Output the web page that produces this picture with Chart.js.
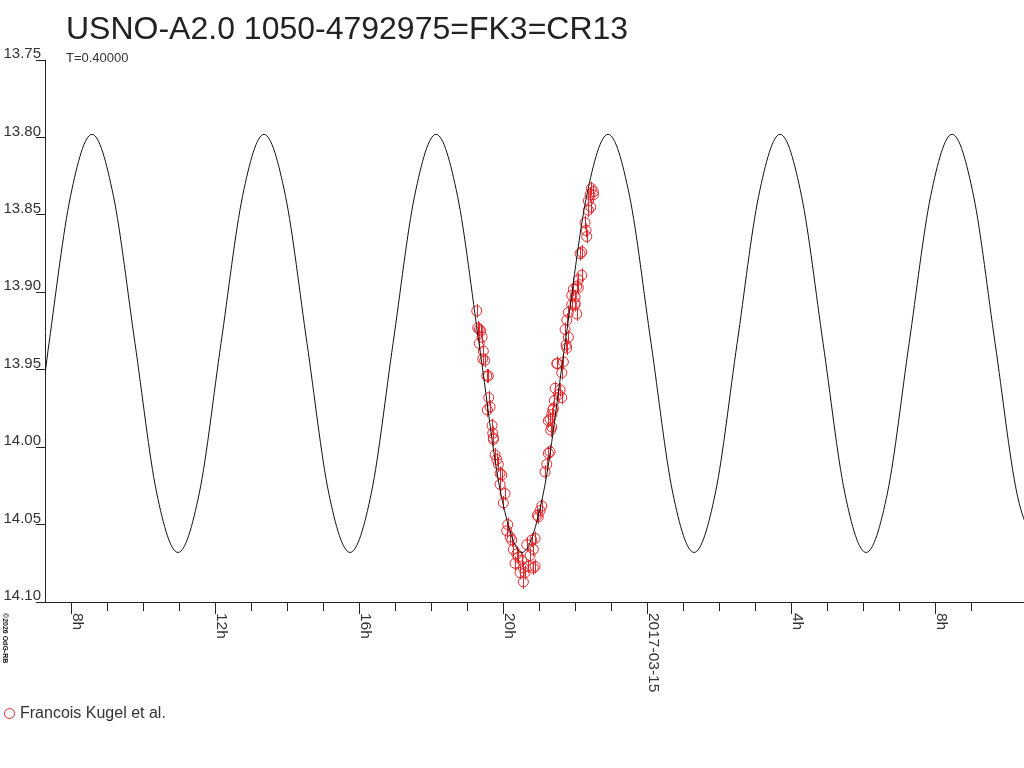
<!DOCTYPE html>
<html>
<head>
<meta charset="utf-8">
<script src="https://cdn.jsdelivr.net/npm/chart.js@4.4.1/dist/chart.umd.min.js"></script>
<style>
  html, body { margin: 0; padding: 0; background: #fff; }
  #wrap { position: relative; width: 1024px; height: 768px; font-family: "Liberation Sans", Arial, sans-serif; color: #222; }
  #chart { position: absolute; left: 0; top: 0; }
  .txt { position: absolute; white-space: nowrap; line-height: 1; }
  #title { left: 66px; top: 12px; font-size: 32px; }
  #sub { left: 66px; top: 51px; font-size: 13px; color: #333; }
  #legend { left: 4px; top: 705px; font-size: 16px; color: #333; }
  #legend span.mark { display: inline-block; width: 9px; height: 9px; border: 1px solid #e4262b; border-radius: 50%; vertical-align: -1px; margin-right: 5px; }
  #copy { left: 9px; top: 613px; font-size: 7px; font-weight: bold; transform: rotate(90deg); transform-origin: 0 0; color: #111; }
</style>
</head>
<body>
<div id="wrap">
  <canvas id="chart" width="1024" height="768"></canvas>
  <div class="txt" id="title">USNO-A2.0 1050-4792975=FK3=CR13</div>
  <div class="txt" id="sub">T=0.40000</div>
  <div class="txt" id="legend"><span class="mark"></span>Francois Kugel et al.</div>
  <div class="txt" id="copy">©2026 OdG-RB</div>
</div>
<script>
// hours counted from 2017-03-14 00:00
const xMin = 7.27;
const xMax = 34.46;
const magMin = 13.75;
const magMax = 14.10;

const tickHours = [8, 12, 16, 20, 24, 28, 32];
const tickLabels = ['8h', '12h', '16h', '20h', '2017-03-15', '4h', '8h'];

// model light curve
const curveHours = [7.27, 7.381, 7.978, 8.575, 9.172, 9.770, 10.367, 10.964, 11.561, 12.158, 12.756,
  13.353, 13.950, 14.547, 15.145, 15.742, 16.339, 16.936, 17.533, 18.131, 18.728, 19.325, 19.922,
  20.519, 21.117, 21.714, 22.311, 22.908, 23.506, 24.103, 24.700, 25.297, 25.894, 26.492, 27.089,
  27.686, 28.283, 28.881, 29.478, 30.075, 30.672, 31.269, 31.867, 32.464, 33.061, 33.658, 34.256, 34.853];
const curveMags = [13.953, 13.933, 13.838, 13.798, 13.838, 13.933, 14.029, 14.068, 14.029, 13.933, 13.838,
  13.798, 13.838, 13.933, 14.029, 14.068, 14.029, 13.933, 13.838, 13.798, 13.838, 13.933, 14.029,
  14.068, 14.029, 13.933, 13.838, 13.798, 13.838, 13.933, 14.029, 14.068, 14.029, 13.933, 13.838,
  13.798, 13.838, 13.933, 14.029, 14.068, 14.029, 13.933, 13.838, 13.798, 13.838, 13.933, 14.029, 14.068];

// observations (Francois Kugel et al.)
const obsHours = [19.261, 19.289, 19.333, 19.372, 19.408, 19.333, 19.444, 19.428, 19.483, 19.539,
  19.583, 19.594, 19.556, 19.631, 19.686, 19.706, 19.722, 19.722, 19.769, 19.817,
  19.861, 19.908, 19.956, 19.908, 20.047, 20.000, 20.122, 20.094, 20.186, 20.233,
  20.278, 20.372, 20.325, 20.417, 20.511, 20.556, 20.464, 20.603, 20.694, 20.556,
  20.650, 20.789, 20.881, 20.833, 20.742, 20.833, 20.881, 20.944, 20.972, 21.019,
  21.067, 21.158, 21.206, 21.250, 21.297, 21.317, 21.344, 21.297, 21.372, 21.389,
  21.417, 21.436, 21.483, 21.344, 21.250, 21.500, 21.528, 21.575, 21.622, 21.622,
  21.667, 21.742, 21.761, 21.714, 21.761, 21.806, 21.806, 21.900, 21.992, 22.039,
  21.900, 21.992, 21.992, 21.944, 22.083, 22.083, 22.178, 22.039, 22.178, 22.131,
  22.269, 22.297, 22.317, 22.408, 22.500, 22.361, 22.428, 22.361, 22.444, 22.500];
const obsMags = [13.912, 13.923, 13.924, 13.925, 13.929, 13.933, 13.938, 13.943, 13.944, 13.954,
  13.954, 13.968, 13.976, 13.974, 13.986, 13.991, 13.994, 13.995, 14.005, 14.008,
  14.011, 14.017, 14.018, 14.024, 14.030, 14.036, 14.050, 14.054, 14.058, 14.060,
  14.066, 14.069, 14.075, 14.071, 14.073, 14.078, 14.081, 14.081, 14.077, 14.087,
  14.063, 14.060, 14.059, 14.066, 14.070, 14.078, 14.077, 14.044, 14.045, 14.041,
  14.038, 14.016, 14.011, 14.004, 14.003, 13.989, 13.987, 13.982, 13.976, 13.975,
  13.970, 13.962, 13.946, 13.979, 13.983, 13.946, 13.966, 13.963, 13.968, 13.952,
  13.945, 13.934, 13.936, 13.924, 13.918, 13.929, 13.913, 13.908, 13.907, 13.914,
  13.902, 13.903, 13.908, 13.898, 13.892, 13.897, 13.889, 13.896, 13.874, 13.875,
  13.855, 13.860, 13.864, 13.837, 13.837, 13.841, 13.845, 13.847, 13.833, 13.835];
const obsErr = 0.0045;

const RED = '#e4262b';
const INK = '#222';

const curvePts = curveHours.map((h, i) => ({ x: h, y: curveMags[i] }));
const obsPts = obsHours.map((h, i) => ({ x: h, y: obsMags[i] }));

// error bars under the circles
const errorBars = {
  id: 'errorBars',
  beforeDatasetsDraw(chart) {
    const ctx = chart.ctx, xs = chart.scales.x, ys = chart.scales.y;
    ctx.save();
    ctx.strokeStyle = RED;
    ctx.lineWidth = 1;
    obsPts.forEach(p => {
      const px = Math.round(xs.getPixelForValue(p.x)) + 0.5;
      ctx.beginPath();
      ctx.moveTo(px, ys.getPixelForValue(p.y - obsErr));
      ctx.lineTo(px, ys.getPixelForValue(p.y + obsErr));
      ctx.stroke();
    });
    ctx.restore();
  }
};

// long ticks and rotated labels on the time axis
const timeLabels = {
  id: 'timeLabels',
  afterDraw(chart) {
    const ctx = chart.ctx, xs = chart.scales.x;
    const y0 = chart.chartArea.bottom;
    ctx.save();
    ctx.strokeStyle = INK;
    ctx.fillStyle = '#333';
    ctx.lineWidth = 1;
    ctx.font = '15.5px "Liberation Sans", Arial, sans-serif';
    tickHours.forEach((h, i) => {
      const px = Math.round(xs.getPixelForValue(h)) + 0.5;
      ctx.beginPath();
      ctx.moveTo(px, y0);
      ctx.lineTo(px, y0 + 12);
      ctx.stroke();
      ctx.save();
      ctx.translate(px + 1, y0 + 11);
      ctx.rotate(Math.PI / 2);
      ctx.textBaseline = 'alphabetic';
      ctx.textAlign = 'left';
      ctx.fillText(tickLabels[i], 0, 0);
      ctx.restore();
    });
    ctx.restore();
  }
};

new Chart(document.getElementById('chart'), {
  type: 'scatter',
  data: {
    datasets: [
      {
        label: 'model',
        data: curvePts,
        showLine: true,
        borderColor: '#111',
        borderWidth: 1,
        pointRadius: 0,
        cubicInterpolationMode: 'monotone',
        fill: false
      },
      {
        label: 'Francois Kugel et al.',
        data: obsPts,
        showLine: false,
        pointStyle: 'circle',
        pointRadius: 5,
        borderColor: RED,
        borderWidth: 1,
        backgroundColor: 'rgba(0,0,0,0)'
      }
    ]
  },
  options: {
    responsive: false,
    animation: false,
    layout: { autoPadding: false, padding: { top: 60, left: 0, right: 0, bottom: 0 } },
    plugins: {
      legend: { display: false },
      title: { display: false },
      tooltip: { enabled: false }
    },
    scales: {
      x: {
        type: 'linear',
        min: xMin,
        max: xMax,
        afterFit: s => { s.height = 166; },
        border: { color: INK, width: 1 },
        grid: {
          drawOnChartArea: false,
          tickLength: 9,
          color: c => (c.tick && Number.isInteger(c.tick.value)) ? INK : 'rgba(0,0,0,0)'
        },
        ticks: { stepSize: 1, display: false, autoSkip: false }
      },
      y: {
        reverse: true,
        min: magMin,
        max: magMax,
        afterFit: s => { s.width = 45; },
        border: { color: INK, width: 1 },
        grid: { drawOnChartArea: false, tickLength: 9, color: INK },
        ticks: {
          stepSize: 0.05,
          padding: -5,
          labelOffset: -6,
          color: '#333',
          font: { family: '"Liberation Sans", Arial, sans-serif', size: 15 },
          callback: v => v.toFixed(2)
        }
      }
    }
  },
  plugins: [errorBars, timeLabels]
});
</script>
</body>
</html>
